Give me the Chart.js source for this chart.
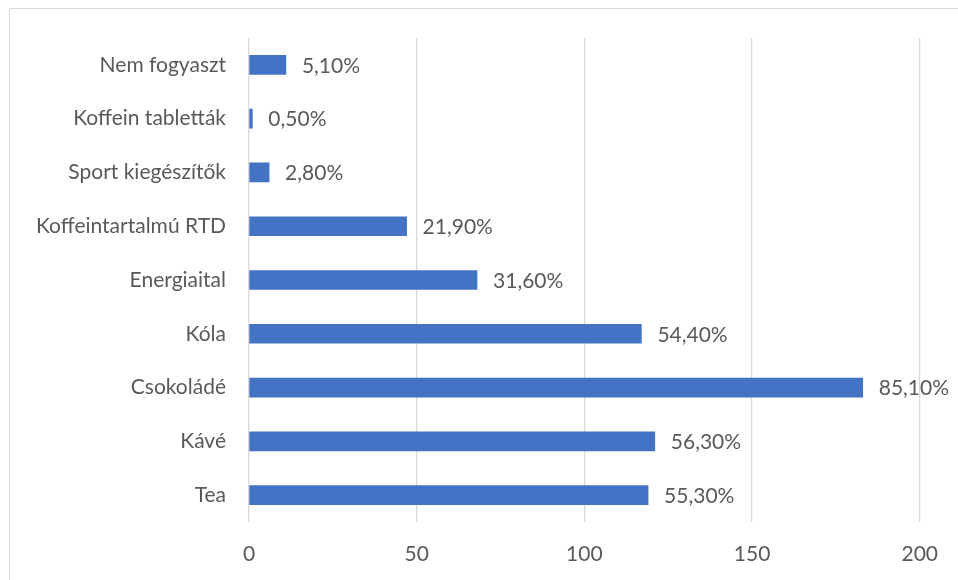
<!DOCTYPE html>
<html>
<head>
<meta charset="utf-8">
<script src="https://cdn.jsdelivr.net/npm/chart.js@4/dist/chart.umd.min.js"></script>
<style>
  html, body { margin: 0; padding: 0; background: #fff; overflow: hidden; }
  #wrap { position: relative; width: 958px; height: 580px; }
  #frame {
    position: absolute; left: 9px; top: 8px; width: 1000px; height: 700px;
    border: 1px solid #d9d9d9; box-sizing: border-box;
  }
  canvas { position: absolute; left: 0; top: 0; }
</style>
</head>
<body>
<div id="wrap">
  <div id="frame"></div>
  <canvas id="chart" width="958" height="580"></canvas>
</div>
<script>
// Categories, top to bottom as drawn
const CATEGORIES = [
  'Nem fogyaszt',
  'Koffein tabletták',
  'Sport kiegészítők',
  'Koffeintartalmú RTD',
  'Energiaital',
  'Kóla',
  'Csokoládé',
  'Kávé',
  'Tea'
];

const COUNTS = [11, 1, 6, 47, 68, 117, 183, 121, 119];

// Label text shown next to each bar
const PERCENT_LABELS = ['5,10%', '0,50%', '2,80%', '21,90%', '31,60%', '54,40%', '85,10%', '56,30%', '55,30%'];

const X_TICKS = [0, 50, 100, 150, 200];

const FONT = 'Lato, "Liberation Sans", sans-serif';
const FONT_SIZE = 21;
const TEXT = '#595959';
const GRID = '#d9d9d9';
const BAR  = '#4472C4';

// ── Value labels to the right of each bar ─────────────────────────────────────
const barLabels = {
  id: 'barLabels',
  afterDatasetsDraw(chart) {
    const { ctx } = chart;
    const meta = chart.getDatasetMeta(0);
    ctx.save();
    ctx.font = `${FONT_SIZE}px ${FONT}`;
    ctx.fillStyle = TEXT;
    ctx.textAlign = 'left';
    ctx.textBaseline = 'middle';
    meta.data.forEach((bar, i) => {
      ctx.fillText(PERCENT_LABELS[i], bar.x + 16, bar.y + 1);
    });
    ctx.restore();
  }
};

new Chart(document.getElementById('chart').getContext('2d'), {
  type: 'bar',
  data: {
    labels: CATEGORIES,
    datasets: [{
      data: COUNTS,
      backgroundColor: BAR,
      borderWidth: 0,
      barThickness: 19
    }]
  },
  options: {
    indexAxis: 'y',
    responsive: false,
    animation: false,
    layout: { padding: { top: 38, right: 34, bottom: 0, left: 0 } },
    plugins: {
      legend: { display: false },
      tooltip: { enabled: false }
    },
    scales: {
      x: {
        min: 0,
        max: 200,
        afterBuildTicks: axis => { axis.ticks = X_TICKS.map(v => ({ value: v })); },
        afterFit: axis => { axis.height = 58; },
        ticks: {
          color: TEXT,
          font: { family: FONT, size: FONT_SIZE },
          padding: 20
        },
        grid: { color: GRID, lineWidth: 1.3, drawTicks: false },
        border: { display: false }
      },
      y: {
        afterFit: axis => { axis.width = 249; },
        ticks: {
          color: TEXT,
          font: { family: FONT, size: FONT_SIZE },
          padding: 23
        },
        grid: { display: false, drawTicks: false },
        border: { display: false }
      }
    }
  },
  plugins: [barLabels]
});
</script>
</body>
</html>
